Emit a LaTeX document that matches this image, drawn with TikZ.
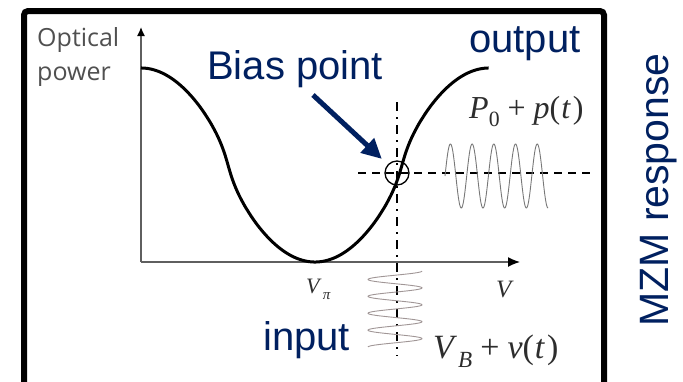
\documentclass[tikz,border=0pt]{standalone}
\usepackage{graphicx}
\usepackage{fontspec}
\newfontfamily\arialf{Liberation Sans}
\newfontfamily\osans{Open Sans}
\newfontfamily\timesf{Liberation Serif}
\newcommand\lowsub[1]{\raisebox{-0.28em}{\scalebox{0.68}{#1}}}
\usetikzlibrary{arrows.meta}
\definecolor{navy}{RGB}{0,32,96}
\definecolor{axisgray}{RGB}{95,95,95}
\definecolor{labgray}{RGB}{80,80,80}
\definecolor{mathgray}{RGB}{45,45,45}
\definecolor{wavegray}{RGB}{120,120,120}
\definecolor{inwave}{RGB}{160,150,150}
\tikzset{
  frameline/.style={line width=6pt, rounded corners=4pt},
  axisline/.style={axisgray, line width=1.4pt},
  mzmcurve/.style={black, line width=3pt},
  hdash/.style={black, line width=1.6pt, dash pattern=on 8pt off 6pt},
  vdashdot/.style={black, line width=1.6pt, dash pattern=on 9pt off 6pt on 2pt off 6pt},
  biasring/.style={circle, draw=black, line width=1.3pt, minimum size=24pt, inner sep=0pt},
  biasarrow/.style={navy, line width=5pt, -{Triangle[length=20pt,width=19pt]}},
  bluelabel/.style={navy, inner sep=0pt, font=\arialf\fontsize{40}{46}\selectfont},
  graylabel/.style={labgray, inner sep=0pt, font=\osans\fontsize{25}{30}\selectfont},
  mathlabel/.style={mathgray, inner sep=0pt}
}
\begin{document}
\begin{tikzpicture}[x=1pt,y=-1pt]
\useasboundingbox (0,0) rectangle (683,381);
\fill[white] (0,0) rectangle (683,381);
% frame
\coordinate (fbl) at (24,395);
\coordinate (ftl) at (24,11);
\coordinate (ftr) at (604,11);
\coordinate (fbr) at (604,395);
\draw[frameline] (fbl) -- (ftl) -- (ftr) -- (fbr);
% axes
\coordinate (O) at (141,262);
\coordinate (ytop) at (141,27);
\coordinate (xend) at (520,262);
\draw[axisline, -{Latex[length=9pt,width=8pt,color=black]}] (O) -- (ytop);
\draw[axisline, -{Latex[length=12pt,width=10pt,color=black]}] (O) -- (xend);
% transfer curve
\draw[mzmcurve] plot[domain=0:2, samples=200, smooth]
  ({141+174*\x}, {165-97*cos(180*\x)*pow(pow(cos(180*\x),2)+0.01,-0.15)/0.9985});
% guide lines
\coordinate (hl) at (358,173);
\coordinate (hr) at (590,173);
\coordinate (vt) at (397,102);
\coordinate (vb) at (397,356);
\draw[hdash] (hl) -- (hr);
\draw[vdashdot] (vt) -- (vb);
% bias point ring
\node[biasring] (bc) at (397,173) {};
% output wave
\draw[wavegray, line width=0.9pt] plot[domain=0:4.75, samples=240, smooth] ({445+21.7*\x}, {176-32*sin(360*\x)});
% input wave
\draw[inwave, line width=0.9pt] plot[domain=0:4.5, samples=240, smooth] ({395+27*cos(360*\x)}, {271+16.9*\x});
% labels
\node[graylabel, anchor=base west] (optical) at (37,46) {Optical};
\node[graylabel, anchor=base west] (power) at (37,80) {power};
\node[bluelabel, anchor=base west] (biaslab) at (207,79) {Bias point};
\node[bluelabel, anchor=base west] (outlab) at (469,52) {output};
\node[bluelabel, anchor=base west] (inlab) at (263,350) {input};
\node[navy, inner sep=0pt, font=\arialf\fontsize{41}{46}\selectfont, rotate=90, anchor=base] (mzm) at (668,190) {MZM response};
\node[mathlabel, anchor=base west, font=\timesf\fontsize{32}{36}\selectfont] (pout) at (469,118) {\textit{P}\lowsub{0}\hspace{8pt}+\hspace{8pt}\textit{p}(\kern1pt\textit{t}\kern2pt)};
\node[mathlabel, anchor=base west, font=\timesf\fontsize{34}{38}\selectfont] (vin) at (433,358) {\textit{V}\kern1pt\lowsub{\textit{B}}\hspace{8pt}+\hspace{8pt}\textit{v}(\kern1pt\textit{t}\kern2pt)};
\node[mathlabel, anchor=base west, font=\timesf\fontsize{22}{24}\selectfont] (vpi) at (306,293) {\textit{V}\kern1pt\lowsub{\textit{π}}};
\node[mathlabel, anchor=base west, font=\timesf\fontsize{25}{30}\selectfont] (vlab) at (496,297) {\textit{V}};
% arrow
\coordinate (arrS) at (313,95);
\draw[biasarrow, shorten >=8pt] (arrS) -- (bc);
\end{tikzpicture}
\end{document}
